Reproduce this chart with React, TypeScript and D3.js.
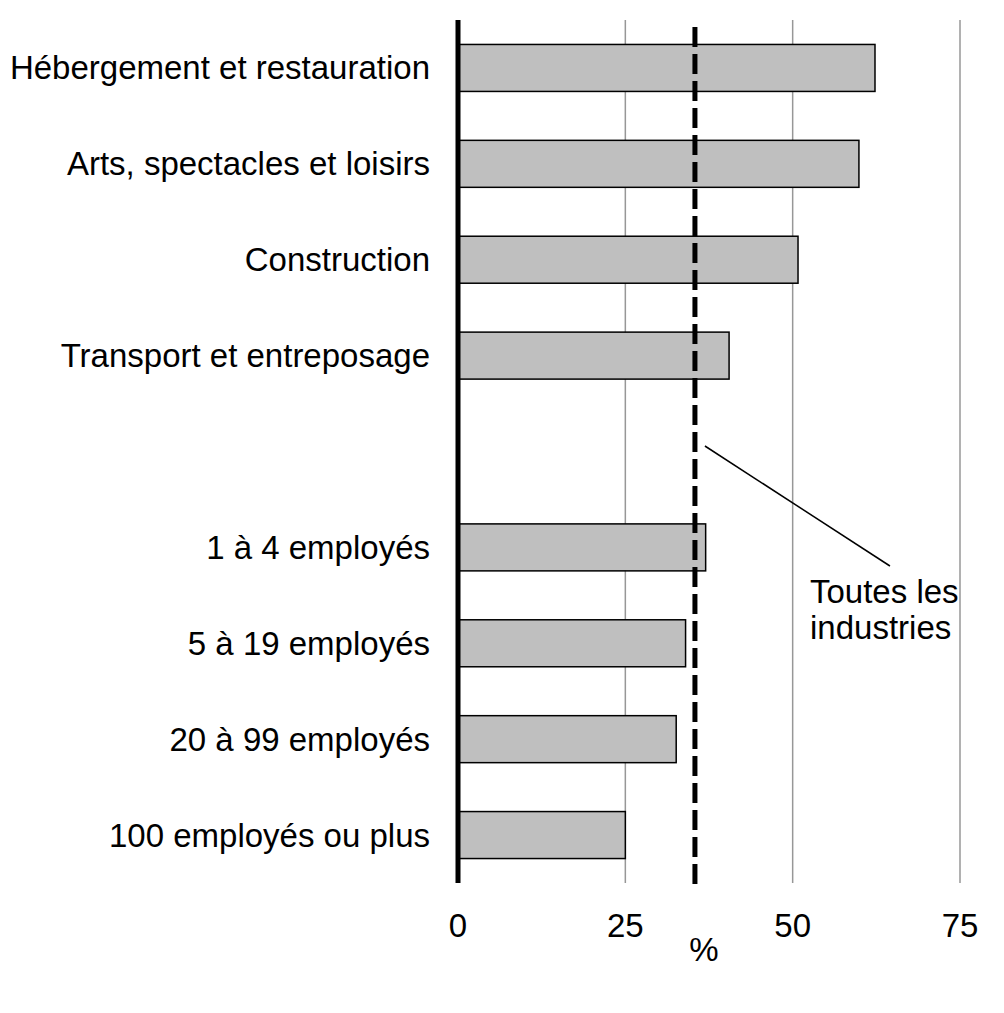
import { useEffect, useRef } from 'react'
import * as d3 from 'd3'

const categories = [
  'Hébergement et restauration',
  'Arts, spectacles et loisirs',
  'Construction',
  'Transport et entreposage',
  '',
  '1 à 4 employés',
  '5 à 19 employés',
  '20 à 99 employés',
  '100 employés ou plus',
]
const values = [62.3, 59.9, 50.8, 40.5, NaN, 37.0, 34.0, 32.6, 25.0]
const allIndustries = 35.4
const xTicks = [0, 25, 50, 75]
const annotation = ['Toutes les', 'industries']

const FONT = 'Arial, "Liberation Sans", sans-serif'
const FS = '33px'

export default function App() {
  const svgRef = useRef<SVGSVGElement>(null)

  useEffect(() => {
    const svgEl = svgRef.current
    if (!svgEl) return
    const width = 1004
    const height = 1013
    const margin = { top: 20, right: 44, bottom: 130, left: 458 }
    const innerW = width - margin.left - margin.right
    const innerH = height - margin.top - margin.bottom

    const x = d3.scaleLinear().domain([0, 75]).range([0, innerW])
    const y = d3
      .scaleBand<number>()
      .domain(categories.map((_, i) => i))
      .range([0, innerH])
      .paddingInner(0.51)
      .paddingOuter(0.255)

    const svg = d3.select(svgEl)
    svg.attr('width', width).attr('height', height).selectAll('*').remove()
    const g = svg.append('g').attr('transform', `translate(${margin.left},${margin.top})`)

    // Gridlines
    g.selectAll('line.grid')
      .data(xTicks.filter(d => d > 0))
      .enter()
      .append('line')
      .attr('class', 'grid')
      .attr('x1', d => x(d))
      .attr('x2', d => x(d))
      .attr('y1', 0)
      .attr('y2', innerH)
      .style('stroke', '#979797')
      .style('stroke-width', '1.5')

    // Bars
    const rows = categories
      .map((c, i) => ({ c, i, v: values[i] }))
      .filter(d => !isNaN(d.v))
    g.selectAll('rect.bar')
      .data(rows)
      .enter()
      .append('rect')
      .attr('class', 'bar')
      .attr('x', x(0))
      .attr('y', d => y(d.i)!)
      .attr('width', d => x(d.v) - x(0))
      .attr('height', y.bandwidth())
      .style('fill', '#bfbfbf')
      .style('stroke', '#000')
      .style('stroke-width', '1.5')

    // Category labels
    g.selectAll('text.cat')
      .data(rows)
      .enter()
      .append('text')
      .attr('class', 'cat')
      .attr('x', -28)
      .attr('y', d => y(d.i)! + y.bandwidth() / 2)
      .attr('dy', '0.35em')
      .attr('text-anchor', 'end')
      .style('font-family', FONT)
      .style('font-size', FS)
      .style('fill', '#000')
      .text(d => d.c)

    // Zero axis
    g.append('line')
      .attr('x1', x(0))
      .attr('x2', x(0))
      .attr('y1', 0)
      .attr('y2', innerH)
      .style('stroke', '#000')
      .style('stroke-width', '5')

    // All industries dashed line
    g.append('line')
      .attr('x1', x(allIndustries))
      .attr('x2', x(allIndustries))
      .attr('y1', 7)
      .attr('y2', innerH + 2)
      .style('stroke', '#000')
      .style('stroke-width', '5')
      .style('stroke-dasharray', '20,7')

    // Annotation
    g.append('line')
      .attr('x1', x(allIndustries) + 10)
      .attr('y1', 426)
      .attr('x2', x(allIndustries) + 195)
      .attr('y2', 546)
      .style('stroke', '#000')
      .style('stroke-width', '1.5')
    g.append('text')
      .attr('x', 352)
      .attr('y', 583)
      .style('font-family', FONT)
      .style('font-size', FS)
      .style('fill', '#000')
      .selectAll('tspan')
      .data(annotation)
      .enter()
      .append('tspan')
      .attr('x', 352)
      .attr('dy', (_, i) => (i === 0 ? 0 : 36))
      .text(d => d)

    // X tick labels
    g.selectAll('text.tick')
      .data(xTicks)
      .enter()
      .append('text')
      .attr('class', 'tick')
      .attr('x', d => x(d))
      .attr('y', innerH + 54)
      .attr('text-anchor', 'middle')
      .style('font-family', FONT)
      .style('font-size', FS)
      .style('fill', '#000')
      .text(d => d)

    g.append('text')
      .attr('x', x(allIndustries) + 9)
      .attr('y', innerH + 78)
      .attr('text-anchor', 'middle')
      .style('font-family', FONT)
      .style('font-size', FS)
      .style('fill', '#000')
      .text('%')
  }, [])

  return (
    <svg
      ref={svgRef}
      style={{ position: 'absolute', left: 0, top: 0, display: 'block', background: '#fff' }}
    />
  )
}
